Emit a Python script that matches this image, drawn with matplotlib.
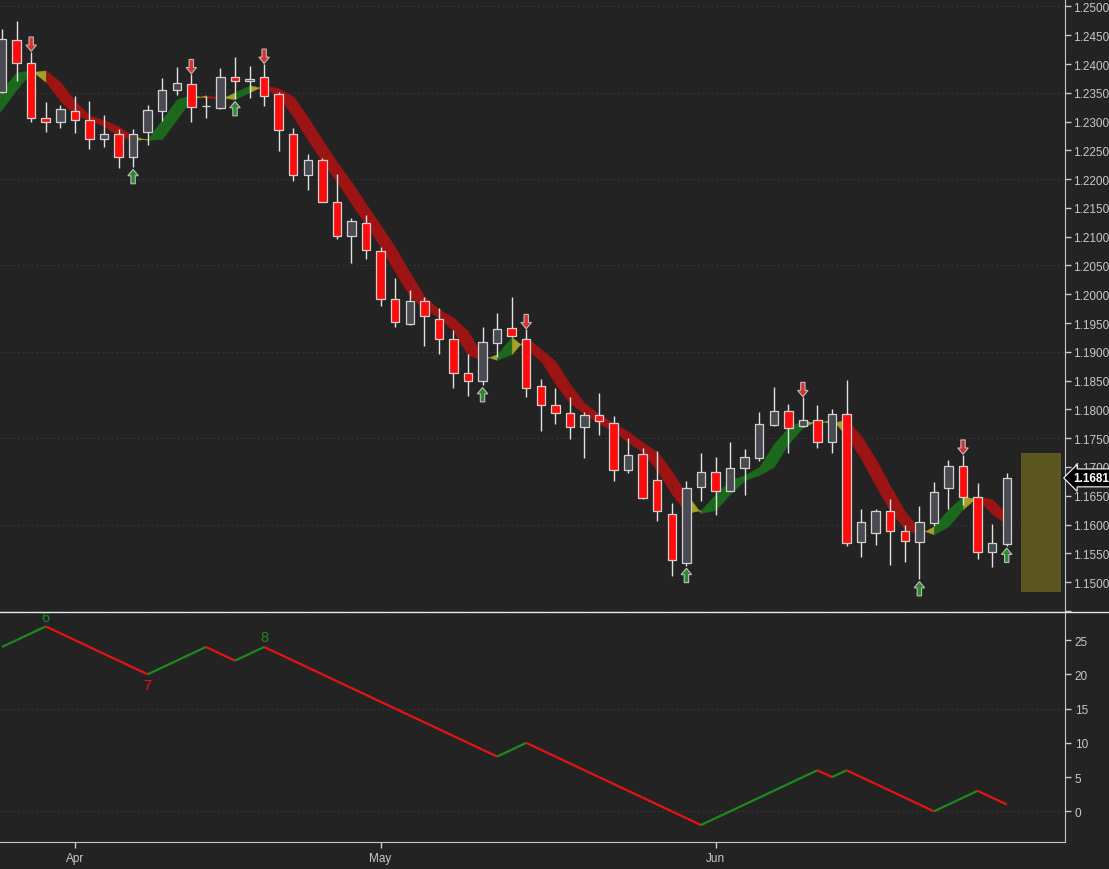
"""EUR/USD daily candles with trend ribbon, signal arrows and swing counter."""

import matplotlib
matplotlib.use("Agg")
import matplotlib.pyplot as plt
import matplotlib.transforms as mtransforms
from matplotlib.collections import LineCollection
from matplotlib.lines import Line2D
from matplotlib.patches import Polygon, Rectangle
import numpy as np

# daily bars, index 0 = first visible bar (late March)
opens = [1.2351, 1.2442, 1.2401, 1.2307, 1.2300, 1.2319, 1.2302, 1.2269, 1.2278, 1.2239,
         1.2282, 1.2319, 1.2355, 1.2365, 1.2327, 1.2324, 1.2378, 1.2370, 1.2377, 1.2348,
         1.2279, 1.2207, 1.2233, 1.2160, 1.2102, 1.2124, 1.2076, 1.1992, 1.1949, 1.1989,
         1.1957, 1.1923, 1.1863, 1.1850, 1.1916, 1.1942, 1.1923, 1.1841, 1.1807, 1.1793,
         1.1770, 1.1791, 1.1777, 1.1695, 1.1722, 1.1678, 1.1618, 1.1534, 1.1665, 1.1691,
         1.1659, 1.1698, 1.1715, 1.1773, 1.1798, 1.1772, 1.1782, 1.1744, 1.1792, 1.1569,
         1.1586, 1.1623, 1.1588, 1.1569, 1.1602, 1.1663, 1.1702, 1.1647, 1.1552, 1.1567]
highs = [1.2461, 1.2474, 1.2421, 1.2334, 1.2329, 1.2344, 1.2336, 1.2312, 1.2288, 1.2288,
         1.2329, 1.2375, 1.2394, 1.2382, 1.2345, 1.2393, 1.2412, 1.2396, 1.2400, 1.2351,
         1.2289, 1.2243, 1.2237, 1.2209, 1.2132, 1.2137, 1.2083, 1.2029, 1.2007, 1.1995,
         1.1976, 1.1938, 1.1896, 1.1944, 1.1967, 1.1996, 1.1939, 1.1853, 1.1837, 1.1821,
         1.1796, 1.1828, 1.1789, 1.1750, 1.1733, 1.1728, 1.1638, 1.1675, 1.1724, 1.1717,
         1.1743, 1.1731, 1.1796, 1.1839, 1.1810, 1.1821, 1.1807, 1.1801, 1.1851, 1.1627,
         1.1627, 1.1644, 1.1599, 1.1633, 1.1673, 1.1712, 1.1721, 1.1672, 1.1601, 1.1689]
lows = [1.2349, 1.2370, 1.2300, 1.2282, 1.2289, 1.2281, 1.2253, 1.2256, 1.2219, 1.2221,
        1.2260, 1.2301, 1.2346, 1.2299, 1.2307, 1.2322, 1.2339, 1.2341, 1.2327, 1.2249,
        1.2197, 1.2181, 1.2160, 1.2096, 1.2054, 1.2062, 1.1980, 1.1943, 1.1947, 1.1910,
        1.1897, 1.1838, 1.1823, 1.1842, 1.1891, 1.1925, 1.1821, 1.1763, 1.1774, 1.1748,
        1.1715, 1.1756, 1.1676, 1.1689, 1.1644, 1.1606, 1.1510, 1.1528, 1.1641, 1.1617,
        1.1658, 1.1651, 1.1711, 1.1772, 1.1725, 1.1769, 1.1733, 1.1725, 1.1562, 1.1543,
        1.1565, 1.1530, 1.1535, 1.1505, 1.1598, 1.1627, 1.1634, 1.1540, 1.1527, 1.1563]
closes = [1.2443, 1.2401, 1.2307, 1.2300, 1.2322, 1.2302, 1.2269, 1.2278, 1.2239, 1.2279,
          1.2320, 1.2355, 1.2367, 1.2326, 1.2327, 1.2378, 1.2370, 1.2374, 1.2345, 1.2286,
          1.2207, 1.2233, 1.2161, 1.2102, 1.2127, 1.2077, 1.1992, 1.1951, 1.1988, 1.1962,
          1.1923, 1.1864, 1.1850, 1.1917, 1.1939, 1.1927, 1.1838, 1.1807, 1.1793, 1.1769,
          1.1791, 1.1779, 1.1695, 1.1721, 1.1646, 1.1624, 1.1539, 1.1663, 1.1692, 1.1658,
          1.1698, 1.1717, 1.1774, 1.1798, 1.1767, 1.1782, 1.1744, 1.1792, 1.1568, 1.1605,
          1.1623, 1.1588, 1.1571, 1.1604, 1.1656, 1.1702, 1.1647, 1.1553, 1.1568, 1.1681]

# trend ribbon line, starts two bars before the first candle
ribbon = [1.2290, 1.2322, 1.2356, 1.2386, 1.2389, 1.2369, 1.2336, 1.2311, 1.2303, 1.2292,
          1.2275, 1.2268, 1.2270, 1.2304, 1.2339, 1.2346, 1.2342, 1.2339, 1.2351, 1.2363,
          1.2358, 1.2344, 1.2308, 1.2268, 1.2230, 1.2195, 1.2157, 1.2120, 1.2082, 1.2038,
          1.1997, 1.1974, 1.1960, 1.1936, 1.1894, 1.1886, 1.1896, 1.1926, 1.1905, 1.1884,
          1.1844, 1.1811, 1.1792, 1.1776, 1.1762, 1.1743, 1.1726, 1.1693, 1.1653, 1.1620,
          1.1625, 1.1653, 1.1677, 1.1686, 1.1700, 1.1740, 1.1769, 1.1781, 1.1776, 1.1783,
          1.1754, 1.1714, 1.1667, 1.1623, 1.1592, 1.1583, 1.1597, 1.1627, 1.1649, 1.1644,
          1.1618, 1.1601]
ribbon_start = -2

sell_signals = [2, 13, 18, 36, 55, 66]
buy_signals = [9, 16, 33, 47, 63, 69]

# swing counter (lower panel)
counter = [24, 25, 26, 27, 26, 25, 24, 23, 22, 21,
           20, 21, 22, 23, 24, 23, 22, 23, 24, 23,
           22, 21, 20, 19, 18, 17, 16, 15, 14, 13,
           12, 11, 10, 9, 8, 9, 10, 9, 8, 7,
           6, 5, 4, 3, 2, 1, 0, -1, -2, -1,
           0, 1, 2, 3, 4, 5, 6, 5, 6, 5,
           4, 3, 2, 1, 0, 1, 2, 3, 2, 1]
swing_bars = [3, 10, 18]
swing_labels = ["6", "7", "8"]

month_bars = [5, 26, 49]
month_labels = ["Apr", "May", "Jun"]

last_price = 1.1681
zone_start, zone_end = 70.0, 72.7
zone_low, zone_high = 1.1483, 1.1724

BG = "#232323"
TXT = "#c8c8c8"
GRID = "#383838"
CANDLE_RED = "#ff0d0d"
CANDLE_GRAY = "#4a4a52"
CANDLE_EDGE = "#d2d2d2"
RIB_GREEN = "#1c681c"
RIB_RED = "#9c1414"
RIB_YELLOW = "#a3a127"
LINE_GREEN = "#1d8a1d"
LINE_RED = "#e31414"
SANS = ["Liberation Sans", "DejaVu Sans"]
NARROW = ["Liberation Sans Narrow", "Liberation Sans", "DejaVu Sans"]


def arrow_patch(x, tip, direction, color):
    """Block arrow with its point at (x, tip); direction +1 points up, -1 down."""
    length, head = 0.0025, 0.0011
    shaft_w, head_w = 0.15, 0.36
    tail = tip - direction * length
    neck = tip - direction * head
    pts = [(x - shaft_w, tail), (x + shaft_w, tail), (x + shaft_w, neck),
           (x + head_w, neck), (x, tip), (x - head_w, neck), (x - shaft_w, neck)]
    return Polygon(pts, closed=True, fc=color, ec="#bdbdbd", lw=0.8, zorder=6)


fig = plt.figure(figsize=(11.09, 8.70), dpi=100, facecolor=BG)
ax = fig.add_axes([0.0, 0.2954, 0.9603, 0.7046], facecolor=BG)
ax2 = fig.add_axes([0.0, 0.031, 0.9603, 0.2632], facecolor=BG)

x = np.arange(len(closes))
o, h, l, c = (np.array(v) for v in (opens, highs, lows, closes))

# ribbon: band between the line and its one-bar lag
rib = np.array(ribbon)
rx = np.arange(len(rib)) + ribbon_start
for k in range(1, len(rib) - 1):
    prev, cur, nxt = rib[k - 1], rib[k], rib[k + 1]
    rising, rising_next = cur > prev, nxt > cur
    if rising and rising_next:
        col = RIB_GREEN
    elif not rising and not rising_next:
        col = RIB_RED
    else:
        col = RIB_YELLOW
    ax.fill_between([rx[k], rx[k] + 1], [prev, cur], [cur, nxt],
                    facecolor=col, edgecolor=col, lw=0.3, zorder=1)

# candles
up = c >= o
ax.vlines(x, l, h, color="#e2e2e2", lw=1.0, zorder=3)
ax.bar(x, np.abs(c - o), bottom=np.minimum(o, c), width=0.58,
       color=np.where(up, CANDLE_GRAY, CANDLE_RED), edgecolor=CANDLE_EDGE,
       linewidth=0.9, zorder=4)

for i in sell_signals:
    ax.add_patch(arrow_patch(i, h[i] + 0.0001, -1, "#d93030"))
for i in buy_signals:
    ax.add_patch(arrow_patch(i, l[i] - 0.0004, 1, "#2e8a2e"))

ax.add_patch(Rectangle((zone_start, zone_low), zone_end - zone_start, zone_high - zone_low,
                       facecolor="#5b5620", edgecolor="none", zorder=2))

ax.set_xlim(-0.14, 73.0)
ax.set_ylim(1.1448, 1.2513)
for g in np.arange(1.145, 1.2501, 0.015):
    ax.axhline(g, color=GRID, lw=0.8, ls=(0, (1.5, 2.5)), zorder=0)

ticks = np.arange(1.145, 1.25005, 0.005)
ax.yaxis.tick_right()
ax.set_yticks(ticks)
ax.set_yticklabels([""] + [f"{t:.4f}" for t in ticks[1:]])
ax.tick_params(axis="y", colors=TXT, length=4, width=1, pad=2, labelsize=8.5)
for lab in ax.get_yticklabels():
    lab.set_family(SANS)
ax.set_xticks([])
for side in ("top", "left", "bottom"):
    ax.spines[side].set_visible(False)
ax.spines["right"].set_color(TXT)

trans = mtransforms.blended_transform_factory(ax.transAxes, ax.transData)
ax.text(1.008, last_price, f"{last_price:.4f}", transform=trans, ha="left", va="center",
        color="white", fontsize=8.5, fontweight="bold", family=SANS,
        bbox=dict(boxstyle="larrow,pad=0.25", fc="black", ec="white", lw=0.8),
        clip_on=False, zorder=10)

# lower panel: swing counter
cnt = np.array(counter)
segs = [[(i, cnt[i]), (i + 1, cnt[i + 1])] for i in range(len(cnt) - 1)]
cols = [LINE_GREEN if cnt[i + 1] > cnt[i] else LINE_RED for i in range(len(cnt) - 1)]
ax2.add_collection(LineCollection(segs, colors=cols, linewidths=1.6, zorder=3))
for b, txt in zip(swing_bars, swing_labels):
    peak = b > 0 and cnt[b] > cnt[b - 1]
    ax2.text(b, cnt[b] + (0.4 if peak else -0.5), txt, ha="center",
             va="bottom" if peak else "top", fontsize=10.5,
             color=LINE_GREEN if peak else LINE_RED, family=NARROW)

ax2.set_xlim(-0.14, 73.0)
ax2.set_ylim(-4.48, 28.95)
for g in (0, 15):
    ax2.axhline(g, color=GRID, lw=0.8, ls=(0, (1.5, 2.5)), zorder=0)
ax2.yaxis.tick_right()
ax2.set_yticks([0, 5, 10, 15, 20, 25])
ax2.set_xticks(month_bars)
ax2.set_xticklabels(month_labels)
ax2.tick_params(colors=TXT, length=4, width=1, pad=3, labelsize=8.5)
for lab in ax2.get_yticklabels() + ax2.get_xticklabels():
    lab.set_family(NARROW)
for side in ("top", "left"):
    ax2.spines[side].set_visible(False)
for side in ("right", "bottom"):
    ax2.spines[side].set_color(TXT)

# separator between panels runs across the full width
fig.add_artist(Line2D([0, 1], [1 - 613 / 870] * 2, transform=fig.transFigure,
                      color="#e6e6e6", lw=1.0))

fig.savefig("out.png", dpi=100, facecolor=BG)
